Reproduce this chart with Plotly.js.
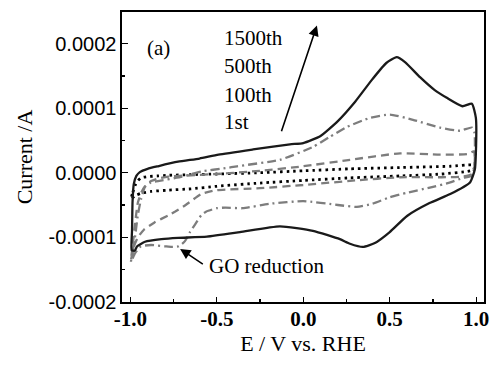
<!DOCTYPE html>
<html>
<head>
<meta charset="utf-8">
<script src="https://cdn.plot.ly/plotly-3.0.1.min.js"></script>
<style>
  html, body { margin: 0; padding: 0; background: #fff; }
  #chart { width: 492px; height: 365px; }
</style>
</head>
<body>
<div id="chart"></div>
<script>
// ---- Data (E in V vs. RHE, current in A) ----
// 1st cycle (dotted black)
const e1st = [-0.996,-0.985,-0.973,-0.955,-0.938,-0.90,-0.84,-0.78,-0.65,-0.5,-0.25,0.0,0.27,0.56,0.85,0.975,0.99,0.98,0.95,0.8,0.56,0.27,0.0,-0.25,-0.5,-0.65,-0.78,-0.88,-0.94,-0.975,-0.996];
const i1st = [-0.41e-4,-0.30e-4,-0.20e-4,-0.12e-4,-0.08e-4,-0.06e-4,-0.05e-4,-0.04e-4,-0.03e-4,-0.02e-4,0.00e-4,0.03e-4,0.06e-4,0.08e-4,0.10e-4,0.12e-4,0.08e-4,0.04e-4,0.02e-4,-0.02e-4,-0.05e-4,-0.08e-4,-0.12e-4,-0.16e-4,-0.21e-4,-0.25e-4,-0.27e-4,-0.29e-4,-0.32e-4,-0.36e-4,-0.41e-4];

// 100th cycle (grey dashed)
const e100th = [-0.996,-0.985,-0.973,-0.956,-0.935,-0.915,-0.88,-0.84,-0.78,-0.65,-0.5,-0.25,0.0,0.27,0.56,0.79,0.95,0.985,0.99,0.99,0.975,0.92,0.8,0.56,0.3,0.0,-0.25,-0.5,-0.59,-0.68,-0.74,-0.78,-0.86,-0.92,-0.956,-0.98,-0.996];
const i100th = [-1.35e-4,-1.10e-4,-0.80e-4,-0.46e-4,-0.30e-4,-0.21e-4,-0.13e-4,-0.09e-4,-0.06e-4,-0.04e-4,-0.02e-4,0.03e-4,0.10e-4,0.20e-4,0.30e-4,0.28e-4,0.29e-4,0.33e-4,0.30e-4,0.10e-4,-0.02e-4,-0.06e-4,-0.07e-4,-0.07e-4,-0.12e-4,-0.19e-4,-0.24e-4,-0.27e-4,-0.33e-4,-0.50e-4,-0.60e-4,-0.66e-4,-0.77e-4,-0.88e-4,-1.00e-4,-1.15e-4,-1.35e-4];

// 500th cycle (grey dash-dot)
const e500th = [-0.996,-0.985,-0.973,-0.956,-0.938,-0.915,-0.88,-0.84,-0.7,-0.59,-0.45,-0.383,-0.135,0.056,0.15,0.253,0.386,0.501,0.634,0.79,0.906,0.975,0.99,0.99,0.975,0.923,0.85,0.732,0.6,0.50,0.40,0.31,0.2,0.0,-0.19,-0.35,-0.45,-0.5,-0.56,-0.59,-0.625,-0.655,-0.684,-0.72,-0.76,-0.80,-0.88,-0.938,-0.973,-0.996];
const i500th = [-1.38e-4,-1.20e-4,-1.00e-4,-0.65e-4,-0.41e-4,-0.22e-4,-0.15e-4,-0.13e-4,-0.06e-4,0.02e-4,0.07e-4,0.10e-4,0.20e-4,0.40e-4,0.55e-4,0.71e-4,0.85e-4,0.90e-4,0.82e-4,0.70e-4,0.65e-4,0.70e-4,0.62e-4,0.10e-4,-0.05e-4,-0.08e-4,-0.15e-4,-0.23e-4,-0.31e-4,-0.38e-4,-0.48e-4,-0.53e-4,-0.50e-4,-0.44e-4,-0.48e-4,-0.55e-4,-0.54e-4,-0.55e-4,-0.60e-4,-0.66e-4,-0.80e-4,-0.92e-4,-1.06e-4,-1.14e-4,-1.15e-4,-1.14e-4,-1.12e-4,-1.14e-4,-1.25e-4,-1.38e-4];

// 1500th cycle (solid black)
const e1500th = [-0.992,-0.99,-0.987,-0.980,-0.965,-0.945,-0.90,-0.84,-0.724,-0.6,-0.49,-0.29,-0.077,0.0,0.1,0.2,0.3,0.4,0.48,0.54,0.59,0.675,0.76,0.83,0.92,0.975,0.998,0.998,0.992,0.964,0.85,0.73,0.6,0.5,0.414,0.345,0.27,0.212,0.056,-0.135,-0.366,-0.557,-0.724,-0.82,-0.915,-0.96,-0.975,-0.992];
const i1500th = [-1.20e-4,-0.90e-4,-0.45e-4,-0.18e-4,-0.05e-4,0.01e-4,0.06e-4,0.10e-4,0.17e-4,0.22e-4,0.28e-4,0.36e-4,0.44e-4,0.46e-4,0.57e-4,0.80e-4,1.10e-4,1.45e-4,1.70e-4,1.79e-4,1.71e-4,1.48e-4,1.28e-4,1.16e-4,1.03e-4,1.07e-4,0.85e-4,0.30e-4,0.05e-4,-0.15e-4,-0.33e-4,-0.47e-4,-0.67e-4,-0.92e-4,-1.09e-4,-1.15e-4,-1.10e-4,-1.03e-4,-0.90e-4,-0.83e-4,-0.92e-4,-0.99e-4,-1.01e-4,-1.03e-4,-1.07e-4,-1.14e-4,-1.21e-4,-1.20e-4];

// Tick labels
const xTickVals = [-1.0, -0.5, 0.0, 0.5, 1.0];
const xTickText = ['-1.0', '-0.5', '0.0', '0.5', '1.0'];
const yTickVals = [0.0002, 0.0001, 0.0, -0.0001, -0.0002];
const yTickText = ['0.0002', '0.0001', '0.0000', '-0.0001', '-0.0002'];
const xMinor = [-0.75, -0.25, 0.25, 0.75];
const yMinor = [0.00015, 0.00005, -0.00005, -0.00015];

// Cycle labels
const cycleLabels = ['1500th', '500th', '100th', '1st'];
const cycleLabelY = [2.09e-4, 1.66e-4, 1.21e-4, 0.78e-4];

const GREY = '#7d7d7d';
const SERIF = 'Liberation Serif, Times New Roman, serif';
const SANS = 'Liberation Sans, Arial, sans-serif';

const traces = [
  { x: e1st, y: i1st, name: '1st', mode: 'lines',
    line: { color: '#000', width: 2.8, dash: '2.5px,4px', shape: 'spline', smoothing: 0.5 } },
  { x: e100th, y: i100th, name: '100th', mode: 'lines',
    line: { color: GREY, width: 2.3, dash: '8px,5px', shape: 'spline', smoothing: 0.5 } },
  { x: e500th, y: i500th, name: '500th', mode: 'lines',
    line: { color: GREY, width: 2.3, dash: '9px,4px,2px,4px', shape: 'spline', smoothing: 0.5 } },
  { x: e1500th, y: i1500th, name: '1500th', mode: 'lines',
    line: { color: '#1a1a1a', width: 2.3, shape: 'spline', smoothing: 0.5 } }
];

const annotations = [
  { x: -0.915, y: 1.94e-4, xref: 'x', yref: 'y', text: '(a)', showarrow: false,
    xanchor: 'left', yanchor: 'middle', font: { family: SERIF, size: 21, color: '#000' } },
  // big arrow
  { x: 0.079, y: 2.28e-4, ax: -0.129, ay: 0.62e-4, xref: 'x', yref: 'y', axref: 'x', ayref: 'y',
    text: '', showarrow: true, arrowhead: 2, arrowsize: 1.3, arrowwidth: 1.6, arrowcolor: '#000' },
  // GO reduction
  { x: -0.556, y: -1.44e-4, xref: 'x', yref: 'y', text: 'GO reduction', showarrow: false,
    xanchor: 'left', yanchor: 'middle', font: { family: SERIF, size: 21, color: '#000' } },
  { x: -0.712, y: -1.18e-4, ax: -0.572, ay: -1.43e-4, xref: 'x', yref: 'y', axref: 'x', ayref: 'y',
    text: '', showarrow: true, arrowhead: 2, arrowsize: 1.4, arrowwidth: 1.5, arrowcolor: '#000' }
];
cycleLabels.forEach((t, k) => {
  annotations.push({ x: -0.469, y: cycleLabelY[k], xref: 'x', yref: 'y', text: t, showarrow: false,
    xanchor: 'left', yanchor: 'middle', font: { family: SERIF, size: 21, color: '#000' } });
});

const layout = {
  width: 492, height: 365,
  margin: { l: 122, r: 8, t: 12, b: 63, pad: 0 },
  paper_bgcolor: '#fff', plot_bgcolor: '#fff',
  showlegend: false,
  xaxis: {
    range: [-1.048, 1.045], showgrid: false, zeroline: false,
    showline: true, mirror: true, linecolor: '#000', linewidth: 1.6,
    ticks: 'inside', ticklen: 5, tickwidth: 1.3, tickcolor: '#000',
    tickvals: xTickVals, ticktext: xTickText, ticklabelstandoff: -3,
    tickfont: { family: SERIF, size: 21, color: '#000', weight: 'bold' },
    minor: { ticks: 'inside', ticklen: 3, tickwidth: 1.2, tickcolor: '#000', tickvals: xMinor },
    title: { text: 'E / V vs. RHE', font: { family: SERIF, size: 22, color: '#000' }, standoff: 5 },
    automargin: false
  },
  yaxis: {
    range: [-0.0002003, 0.000249], showgrid: false, zeroline: false,
    showline: true, mirror: true, linecolor: '#000', linewidth: 1.6,
    ticks: 'inside', ticklen: 6, tickwidth: 1.3, tickcolor: '#000',
    tickvals: yTickVals, ticktext: yTickText,
    tickfont: { family: SANS, size: 20, color: '#000' },
    minor: { ticks: 'inside', ticklen: 3, tickwidth: 1.2, tickcolor: '#000', tickvals: yMinor },
    title: { text: 'Current /A', font: { family: SERIF, size: 22, color: '#000' }, standoff: 10 },
    automargin: false
  },
  annotations: annotations
};

Plotly.newPlot('chart', traces, layout, { displayModeBar: false, staticPlot: true });
</script>
</body>
</html>
